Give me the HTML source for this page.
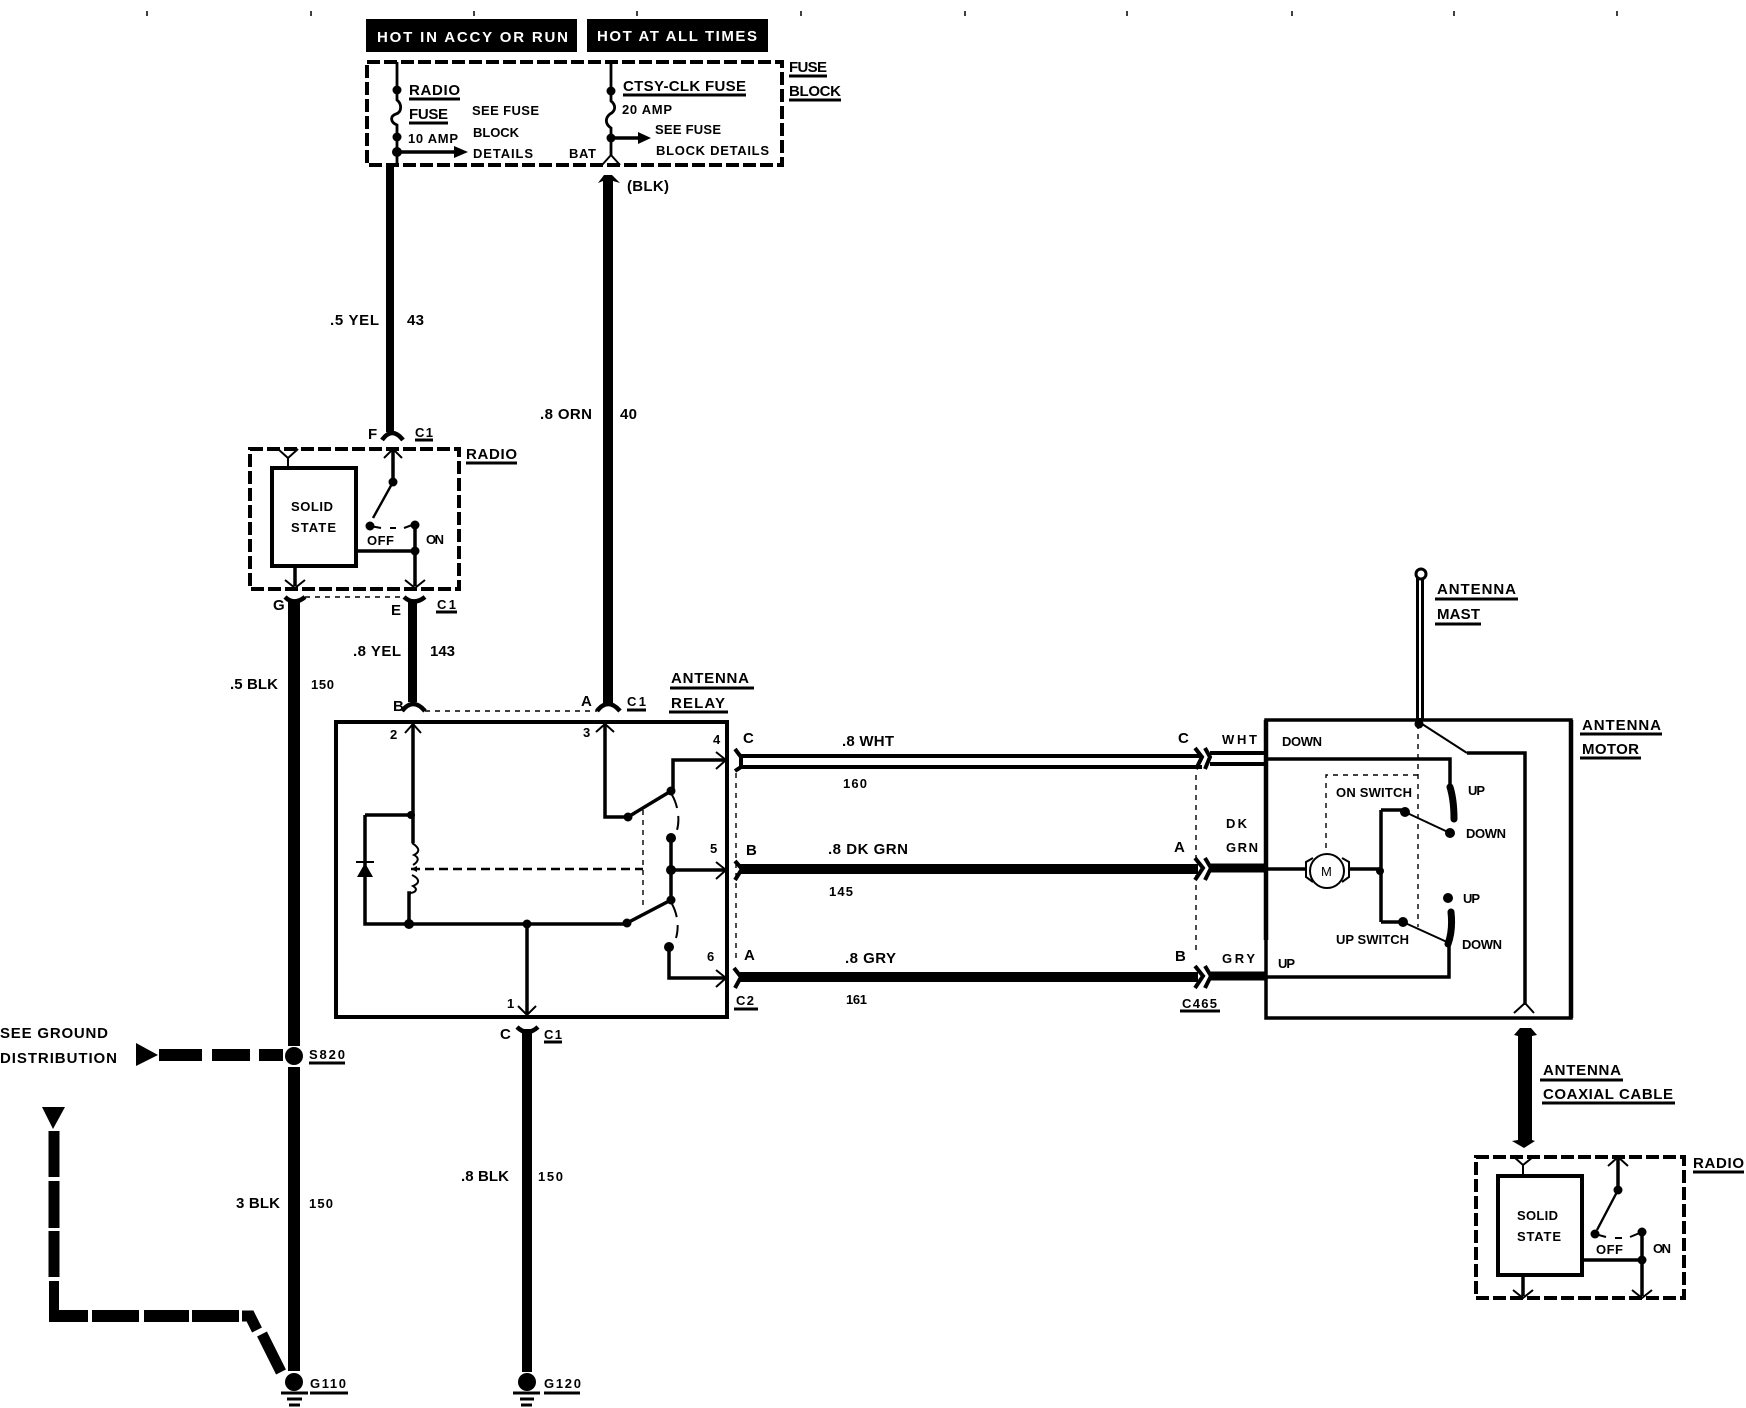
<!DOCTYPE html>
<html><head><meta charset="utf-8"><style>
html,body{margin:0;padding:0;background:#fff}
svg{display:block}
text{font-family:"Liberation Sans",sans-serif;font-weight:bold;font-size:15px;fill:#000}
.s{font-size:13px}
.l{stroke:#000;fill:none;stroke-width:3.5}
.f{stroke:#000;fill:none;stroke-width:2.8}
.th{stroke:#000;fill:none;stroke-width:2}
.u{stroke:#000;fill:none;stroke-width:3}
.d{stroke:#000;fill:none;stroke-width:4;stroke-dasharray:13 4}
.tn{stroke:#000;fill:none;stroke-width:1.4;stroke-dasharray:5 5}
.w{stroke:#000;fill:none}
</style></head><body>
<svg width="1746" height="1408" viewBox="0 0 1746 1408" xmlns="http://www.w3.org/2000/svg">
<rect width="1746" height="1408" fill="#fff"/>
<!-- ticks -->
<path class="w" stroke-width="1.5" d="M147 11v5M311 11v5M474 11v5M637 11v5M801 11v5M965 11v5M1127 11v5M1292 11v5M1454 11v5M1617 11v5"/>
<!-- header boxes -->
<rect x="366" y="19" width="211" height="33"/><rect x="587" y="19" width="181" height="33"/>
<text x="377" y="42" textLength="191" style="fill:#fff">HOT IN ACCY OR RUN</text>
<text x="597" y="41" textLength="160" style="fill:#fff">HOT AT ALL TIMES</text>
<!-- fuse block -->
<rect class="d" x="367" y="62" width="415" height="103"/>
<path class="f" d="M397 62V100C402 104 402 112 396 114C390 116 390 122 397 125V165"/>
<path class="l" d="M397 152H455"/>
<path d="M454 146L468 152L454 158Z"/>
<circle cx="397" cy="90" r="4.5"/><circle cx="397" cy="137" r="4.5"/><circle cx="397" cy="152" r="5"/>
<path class="f" d="M611 62V101C616 105 616 111 610 114C605 118 605 124 611 128V155"/>
<path class="l" d="M611 138H640"/>
<path d="M638 132L651 138L638 144Z"/>
<circle cx="611" cy="91" r="4.5"/><circle cx="611" cy="138" r="4.5"/>
<path class="th" d="M611 155L602 165M611 155L620 165"/>
<text x="409" y="95" textLength="51">RADIO</text><path class="u" d="M409 99H460"/>
<text x="409" y="119" textLength="39">FUSE</text><path class="u" d="M409 123H448"/>
<text class="s" x="408" y="143" textLength="50">10 AMP</text>
<text class="s" x="472" y="115" textLength="67">SEE FUSE</text>
<text class="s" x="473" y="137" textLength="46">BLOCK</text>
<text class="s" x="473" y="158" textLength="60">DETAILS</text>
<text class="s" x="569" y="158" textLength="27">BAT</text>
<text x="623" y="91" textLength="123">CTSY-CLK FUSE</text><path class="u" d="M623 95H746"/>
<text class="s" x="622" y="114" textLength="50">20 AMP</text>
<text class="s" x="655" y="134" textLength="66">SEE FUSE</text>
<text class="s" x="656" y="155" textLength="113">BLOCK DETAILS</text>
<text x="789" y="72" textLength="38">FUSE</text><path class="u" d="M789 76H827"/>
<text x="789" y="96" textLength="52">BLOCK</text><path class="u" d="M789 100H841"/>
<text x="627" y="191" textLength="42">(BLK)</text>
<!-- wires -->
<rect x="386" y="165" width="8" height="267"/>
<polygon points="598,183 604,175 612,175 620,183 613,181 613,705 603,705 603,181"/>
<rect x="288" y="600" width="12" height="446"/><rect x="288" y="1067" width="12" height="304"/>
<rect x="408" y="602" width="9" height="100"/>
<rect x="522" y="1029" width="10" height="343"/>
<!-- wire labels -->
<text x="330" y="325" textLength="49">.5 YEL</text><text x="407" y="325" textLength="17">43</text>
<text x="540" y="419" textLength="52">.8 ORN</text><text x="620" y="419" textLength="17">40</text>
<text x="353" y="656" textLength="48">.8 YEL</text><text x="430" y="656" textLength="25">143</text>
<text x="230" y="689" textLength="48">.5 BLK</text><text x="311" y="689" textLength="23" class="s">150</text>
<text x="236" y="1208" textLength="44">3 BLK</text><text x="309" y="1208" textLength="24" class="s">150</text>
<text x="461" y="1181" textLength="48">.8 BLK</text><text x="538" y="1181" textLength="25" class="s">150</text>
<!-- radio 1 -->
<path class="w" stroke-width="4.5" d="M382 440Q392 426 403 440M285 597Q294 606 305 597M404 597Q414 606 425 597"/>
<text x="368" y="439" textLength="9">F</text><text x="415" y="437" textLength="18" class="s">C1</text><path class="u" d="M415 440H433"/>
<rect class="d" x="250" y="449" width="209" height="140"/>
<rect x="272" y="468" width="84" height="98" fill="none" stroke="#000" stroke-width="4"/>
<path class="th" d="M278 449L288 458L298 449M288 458V468"/>
<path class="th" d="M384 458L393 449L402 458"/>
<path class="l" d="M393 449V482"/>
<circle cx="393" cy="482" r="4.5"/>
<path class="w" stroke-width="2.4" d="M393 482L373 518"/>
<circle cx="370" cy="526" r="4.5"/><circle cx="415" cy="525" r="4.5"/><circle cx="415" cy="551" r="4.5"/>
<path class="th" d="M370 526L381 528M390 528H396M404 528L415 524"/>
<path class="l" d="M415 525V586M356 551H415M295 566V586"/>
<path class="th" stroke-width="2.5" d="M285 580L295 588L305 580M405 580L415 588L425 580"/>
<path class="tn" d="M305 597H404"/>
<text x="367" y="545" class="s" textLength="27">OFF</text><text x="426" y="544" class="s" textLength="18">ON</text>
<text x="291" y="511" class="s" textLength="42">SOLID</text><text x="291" y="532" class="s" textLength="45">STATE</text>
<text x="466" y="459" textLength="51">RADIO</text><path class="u" d="M466 463H517"/>
<text x="273" y="610" textLength="10">G</text><text x="391" y="615" textLength="9">E</text>
<text x="437" y="609" textLength="19" class="s">C1</text><path class="u" d="M436 612H457"/>
<!-- relay -->
<path class="w" stroke-width="4.5" d="M402 711Q413 697 425 711M597 711Q608 697 620 711"/>
<path class="tn" d="M425 711H597"/>
<text x="393" y="711" textLength="9">B</text><text x="581" y="706" textLength="10">A</text>
<text x="627" y="706" textLength="19" class="s">C1</text><path class="u" d="M627 710H646"/>
<text x="671" y="683" textLength="78">ANTENNA</text><path class="u" d="M670 688H754"/>
<text x="671" y="708" textLength="54">RELAY</text><path class="u" d="M669 712H728"/>
<rect x="336" y="722" width="391" height="295" fill="none" stroke="#000" stroke-width="4"/>
<path class="l" d="M413 724V843M605 724V817H628"/>
<path class="th" d="M405 733L413 724L421 733M596 732L605 724L614 732"/>
<path class="l" d="M673 791V760H727M671 838V900M671 870H727M669 947V978H727M365 815H411M365 815V924H627M527 924V1014M411 893H409V924"/>
<path class="th" d="M716 752L726 760L716 769M716 862L726 870L716 879M716 970L726 978L716 987M518 1006L527 1015L536 1006"/>
<path class="w" stroke-width="3.5" d="M628 817L671 791M627 923L671 900"/>
<circle cx="628" cy="817" r="4.5"/><circle cx="671" cy="791" r="4.5"/><circle cx="671" cy="838" r="5"/><circle cx="671" cy="870" r="5"/><circle cx="671" cy="900" r="4.5"/><circle cx="627" cy="923" r="4.5"/><circle cx="669" cy="947" r="5"/><circle cx="409" cy="924" r="5"/><circle cx="527" cy="924" r="4.5"/><circle cx="411" cy="815" r="4"/>
<path class="th" stroke-dasharray="14 8" d="M672 795C678 805 680 820 677 830M672 904C678 915 679 928 676 938"/>
<path class="w" stroke-width="2" d="M412 843C420 848 420 852 414 855C420 858 418 862 413 865M412 875C420 879 420 883 413 886C418 889 416 892 411 893"/>
<path class="th" d="M356 862H374"/><path d="M357 877L365 863L373 877Z"/>
<path class="w" stroke-width="2.5" stroke-dasharray="9 5" d="M411 869H643"/>
<path class="tn" d="M643 810V907"/>
<path d="M411 869L417 866V872Z"/>
<text class="s" x="390" y="739" textLength="9">2</text><text class="s" x="583" y="737" textLength="9">3</text>
<text class="s" x="713" y="744" textLength="8" >4</text><text class="s" x="710" y="853" textLength="8">5</text>
<text class="s" x="707" y="961" textLength="8">6</text><text class="s" x="507" y="1008" textLength="5">1</text>
<text x="500" y="1039" textLength="9">C</text><text x="544" y="1039" textLength="18" class="s">C1</text><path class="u" d="M544 1042H562"/>
<path class="w" stroke-width="4.5" d="M517 1027Q527 1037 538 1027"/>
<!-- left ground -->
<circle cx="294" cy="1056" r="9"/>
<path class="w" stroke-width="12" d="M159 1055H202M212 1055H250M259 1055H283"/>
<path d="M136 1043L158 1055L136 1066Z"/>
<text x="0" y="1038" textLength="108">SEE GROUND</text><text x="0" y="1063" textLength="117">DISTRIBUTION</text>
<text x="309" y="1059" textLength="36" class="s">S820</text><path class="u" d="M309 1063H345"/>
<path d="M42 1107H65L53 1129Z"/>
<path class="w" stroke-width="11" d="M54 1131V1177M54 1181V1228M54 1231V1277"/>
<path d="M49 1281H59V1310H88V1322H49Z"/>
<path class="w" stroke-width="12" d="M92 1316H139M144 1316H189M192 1316H239"/>
<path class="w" stroke-width="11" d="M242 1316H250L257 1330M262 1334L281 1372"/>
<circle cx="294" cy="1382" r="9"/><circle cx="527" cy="1382" r="9"/>
<path class="u" d="M281 1393H308M287 1399H302M289 1405H300M513 1393H540M520 1399H534M521 1405H532"/>
<text x="310" y="1388" textLength="36" class="s">G110</text><path class="u" d="M310 1393H348"/>
<text x="544" y="1388" textLength="37" class="s">G120</text><path class="u" d="M544 1393H580"/>
<!-- harness -->
<path class="w" stroke-width="4" d="M740 756H1202M740 767H1202M1210 753H1266M1210 764H1266"/>
<path class="w" stroke-width="10" d="M740 869H1198M740 977H1198"/>
<path class="w" stroke-width="9" d="M1211 868H1266M1211 976H1266"/>
<path class="w" stroke-width="4" d="M735 749L741 757V767L735 771M735 861L742 869L735 880M734 968L741 977L735 988M1195 748L1202 757L1196 769M1205 748L1210 757L1205 769M1195 858L1203 868L1195 880M1205 858L1211 868L1205 880M1195 966L1203 976L1195 988M1205 966L1211 976L1205 988"/>
<path class="tn" d="M736 773V960M1196 775V955"/>
<text x="743" y="743" textLength="9">C</text><text x="746" y="855" textLength="9">B</text><text x="744" y="960" textLength="10">A</text>
<text x="736" y="1005" textLength="18" class="s">C2</text><path class="u" d="M734 1009H758"/>
<text x="842" y="746" textLength="52">.8 WHT</text><text x="843" y="788" textLength="24" class="s">160</text>
<text x="828" y="854" textLength="80">.8 DK GRN</text><text x="829" y="896" textLength="24" class="s">145</text>
<text x="845" y="963" textLength="51">.8 GRY</text><text x="846" y="1004" textLength="21" class="s">161</text>
<text x="1178" y="743" textLength="9">C</text><text x="1174" y="852" textLength="10">A</text><text x="1175" y="961" textLength="9">B</text>
<text x="1222" y="744" textLength="35" class="s">WHT</text><text x="1226" y="828" textLength="21" class="s">DK</text><text x="1226" y="852" textLength="32" class="s">GRN</text><text x="1222" y="963" textLength="33" class="s">GRY</text>
<text x="1182" y="1008" textLength="35" class="s">C465</text><path class="u" d="M1180 1011H1220"/>
<!-- motor -->
<rect x="1266" y="720" width="305" height="298" fill="none" stroke="#000" stroke-width="3.5"/>
<path class="w" stroke-width="4.5" d="M1266 720V940M1571 720V1018"/>
<path class="w" stroke-width="8" d="M1420 578V720"/><path stroke="#fff" fill="none" stroke-width="2" d="M1420 580V718"/>
<circle cx="1421" cy="574" r="5" fill="#fff" stroke="#000" stroke-width="3"/>
<circle cx="1419" cy="724" r="4.5"/>
<path class="th" stroke-width="2.5" d="M1419 722L1467 753"/>
<path class="l" d="M1467 753H1525V1005M1266 759H1450V787M1266 869H1305M1350 869H1381M1381 810V922M1381 810H1405M1381 922H1403M1449 945V977H1266"/>
<path class="th" stroke-width="2.5" d="M1514 1013L1525 1003L1534 1013"/>
<path class="w" stroke-width="7" stroke-linecap="round" d="M1450 787Q1454 800 1454 819M1451 912Q1453 930 1448 944"/>
<path class="th" stroke-width="2.5" d="M1405 812L1450 833M1403 922L1447 942"/>
<circle cx="1405" cy="812" r="5"/><circle cx="1450" cy="833" r="5"/><circle cx="1403" cy="922" r="5"/><circle cx="1448" cy="898" r="5"/><circle cx="1380" cy="871" r="4"/>
<path class="tn" d="M1418 724V927M1418 775H1326V853"/>
<circle cx="1327" cy="871" r="17" fill="#fff" stroke="#000" stroke-width="2"/>
<path class="th" stroke-width="2.5" d="M1313 858L1306 862V877L1313 882M1342 858L1349 862V877L1342 882"/>
<text class="s" x="1321" y="876" textLength="12" style="font-weight:normal">M</text>
<text class="s" x="1282" y="746" textLength="40">DOWN</text><text class="s" x="1468" y="795" textLength="17">UP</text>
<text class="s" x="1466" y="838" textLength="40">DOWN</text><text class="s" x="1463" y="903" textLength="17">UP</text>
<text class="s" x="1462" y="949" textLength="40">DOWN</text><text class="s" x="1278" y="968" textLength="17">UP</text>
<text class="s" x="1336" y="797" textLength="76">ON SWITCH</text><text class="s" x="1336" y="944" textLength="73">UP SWITCH</text>
<text x="1437" y="594" textLength="79">ANTENNA</text><path class="u" d="M1435 599H1518"/>
<text x="1437" y="619" textLength="43">MAST</text><path class="u" d="M1435 624H1481"/>
<text x="1582" y="730" textLength="79">ANTENNA</text><path class="u" d="M1580 734H1662"/>
<text x="1582" y="754" textLength="57">MOTOR</text><path class="u" d="M1580 758H1641"/>
<!-- coax -->
<polygon points="1514,1035 1520,1028 1531,1028 1537,1035 1532,1036 1532,1140 1535,1141 1524,1148 1512,1141 1518,1140 1518,1036"/>
<text x="1543" y="1075" textLength="78">ANTENNA</text><path class="u" d="M1540 1080H1623"/>
<text x="1543" y="1099" textLength="130">COAXIAL CABLE</text><path class="u" d="M1542 1103H1675"/>
<!-- radio 2 -->
<rect class="d" x="1476" y="1157" width="208" height="141"/>
<rect x="1498" y="1176" width="84" height="99" fill="none" stroke="#000" stroke-width="4"/>
<path class="th" d="M1514 1157L1523 1165L1533 1157M1523 1165V1176M1608 1166L1618 1157L1628 1166"/>
<path class="l" d="M1618 1157V1190M1642 1232V1296M1582 1260H1642M1523 1275V1296"/>
<path class="th" stroke-width="2.5" d="M1513 1290L1523 1298L1533 1290M1632 1290L1642 1298L1652 1290"/>
<circle cx="1618" cy="1190" r="4.5"/>
<path class="w" stroke-width="2.4" d="M1618 1190L1597 1230"/>
<circle cx="1595" cy="1234" r="4.5"/><circle cx="1642" cy="1232" r="4.5"/><circle cx="1642" cy="1260" r="4.5"/>
<path class="th" d="M1595 1234L1606 1237M1615 1238H1622M1630 1237L1642 1232"/>
<text class="s" x="1596" y="1254" textLength="27">OFF</text><text class="s" x="1653" y="1253" textLength="18">ON</text>
<text class="s" x="1517" y="1220" textLength="41">SOLID</text><text class="s" x="1517" y="1241" textLength="44">STATE</text>
<text x="1693" y="1168" textLength="51">RADIO</text><path class="u" d="M1693 1172H1744"/>
</svg>
</body></html>
